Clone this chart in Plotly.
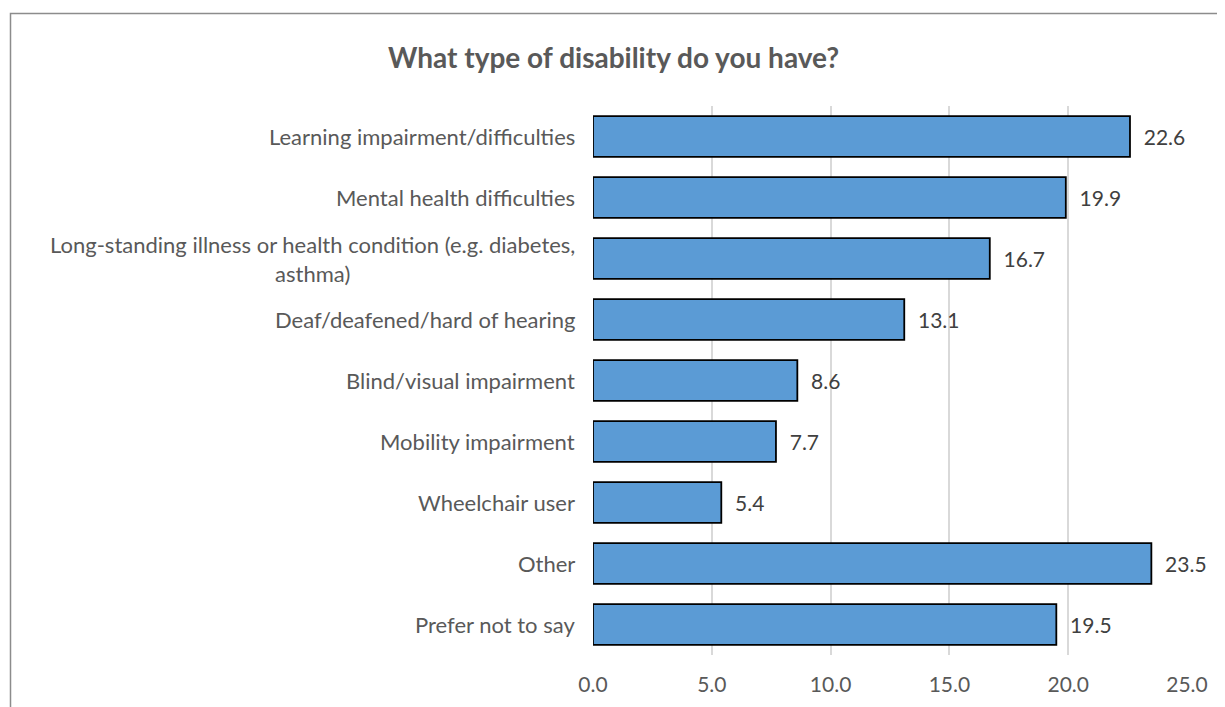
import plotly.graph_objects as go

categories = [
    "Learning impairment/difficulties",
    "Mental health difficulties",
    "Long-standing illness or health condition (e.g. diabetes,<br>asthma)",
    "Deaf/deafened/hard of hearing",
    "Blind/visual impairment",
    "Mobility impairment",
    "Wheelchair user",
    "Other",
    "Prefer not to say",
]
values = [22.6, 19.9, 16.7, 13.1, 8.6, 7.7, 5.4, 23.5, 19.5]
tick_vals = [0, 5, 10, 15, 20, 25]
tick_text = ["0.0", "5.0", "10.0", "15.0", "20.0", "25.0"]
title_text = "What type of disability do you have?"

FONT = "Lato"
OFF = 8  # page body margin
W, H = 1225 - OFF, 707 - OFF
L, T = 593 - OFF, 106 - OFF
R = W - (1187 - OFF)
B = H - (655 - OFF)
pw, ph = W - L - R, H - T - B

fig = go.Figure()
fig.add_trace(go.Bar(
    y=categories,
    x=values,
    orientation="h",
    marker=dict(color="#5B9BD5", line=dict(color="#000000", width=1.8)),
    text=values,
    texttemplate="\u00a0\u00a0%{x:.1f}",
    textposition="outside",
    textfont=dict(family=FONT, size=21, color="#404040"),
    cliponaxis=False,
    hoverinfo="skip",
))

annotations = []
for c in categories:
    annotations.append(dict(
        x=-16 / pw, xref="paper", y=c, yref="y",
        text=c, showarrow=False, xanchor="right", yanchor="middle",
        align="center", font=dict(family=FONT, size=22, color="#595959"),
    ))
annotations.append(dict(
    x=(613 - OFF - L) / pw, xref="paper", y=(H - B - (57 - OFF)) / ph, yref="paper",
    text="<b>" + title_text + "</b>", showarrow=False,
    xanchor="center", yanchor="middle",
    font=dict(family=FONT, size=28, color="#595959"),
))

fig.update_layout(
    width=W, height=H,
    margin=dict(l=L, r=R, t=T, b=B, pad=0),
    paper_bgcolor="white", plot_bgcolor="white",
    showlegend=False,
    bargap=0.33,
    annotations=annotations,
    shapes=[dict(
        type="rect", xref="paper", yref="paper",
        x0=(10.5 - OFF - L) / pw, x1=(W + 20 - L) / pw,
        y0=(H - B - (H + 20)) / ph, y1=(H - B - (13.5 - OFF)) / ph,
        line=dict(color="#8C8C8C", width=1.5), fillcolor="rgba(0,0,0,0)",
        layer="below",
    )],
    xaxis=dict(
        range=[0, 25], tickvals=tick_vals, ticktext=tick_text,
        showgrid=True, gridcolor="#D9D9D9", gridwidth=1.5,
        zeroline=False, showline=False, ticks="",
        tickfont=dict(family=FONT, size=21, color="#595959"),
        ticklabelstandoff=15,
        fixedrange=True,
    ),
    yaxis=dict(
        autorange="reversed", showticklabels=False, showgrid=False,
        zeroline=False, showline=False, ticks="", fixedrange=True,
    ),
)

fig.write_html("out.html")
